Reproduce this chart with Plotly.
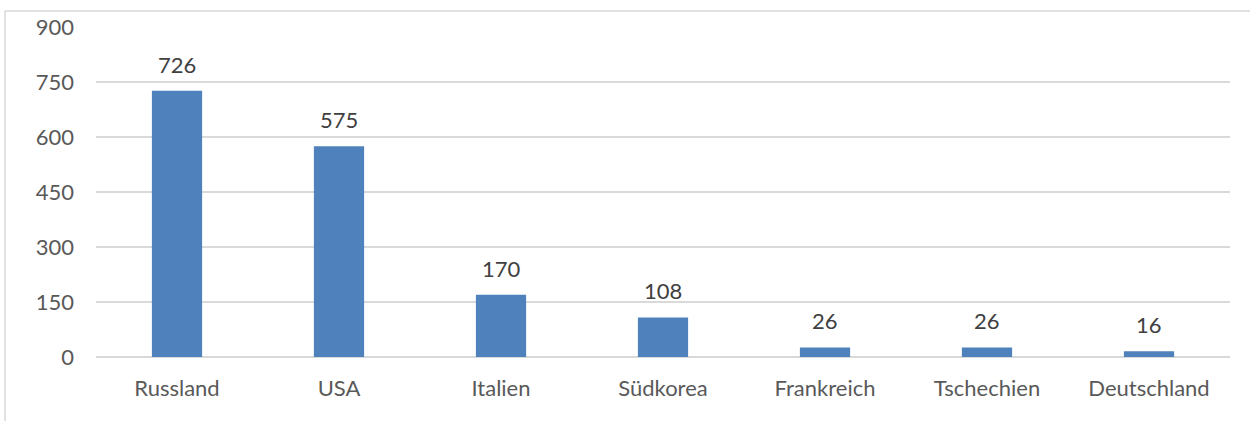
import plotly.graph_objects as go

categories = ["Russland", "USA", "Italien", "Südkorea", "Frankreich", "Tschechien", "Deutschland"]
values = [726, 575, 170, 108, 26, 26, 16]
y_ticks = [0, 150, 300, 450, 600, 750, 900]

FONT = "Lato, Carlito, Calibri, sans-serif"
FS = 22

fig = go.Figure()
fig.add_trace(go.Bar(x=categories, y=values, marker=dict(color="#4F81BD", line=dict(width=0)),
                     hoverinfo="x+y"))

for c, v in zip(categories, values):
    fig.add_annotation(x=c, y=v, text=str(v), showarrow=False, yanchor="bottom", yshift=11,
                       font=dict(family=FONT, size=FS, color="#404040"))

L, T, R, B = 96, 27, 20, 64
W_PLOT = 1250 - L - R
H_PLOT = 421 - T - B
xb = (5 - L) / W_PLOT
yb = 1 + (T - 11) / H_PLOT
fig.add_shape(type="line", xref="paper", yref="paper", x0=xb, x1=xb, y0=-2, y1=yb,
              line=dict(color="#D9D9D9", width=1.5))
fig.add_shape(type="line", xref="paper", yref="paper", x0=xb, x1=2, y0=yb, y1=yb,
              line=dict(color="#D9D9D9", width=1.5))

fig.update_layout(
    width=1250, height=421,
    margin=dict(l=L, r=R, t=T, b=B),
    paper_bgcolor="white", plot_bgcolor="white",
    bargap=0.69, showlegend=False,
    font=dict(family=FONT, size=FS, color="#595959"),
    xaxis=dict(showgrid=False, showline=False, ticks="", tickfont=dict(size=FS, color="#595959"),
               ticklabelstandoff=16),
    yaxis=dict(range=[0, 900], tickvals=y_ticks, showgrid=True, gridcolor="#D9D9D9", gridwidth=1.5,
               zeroline=True, zerolinecolor="#D9D9D9", zerolinewidth=1.5, showline=False,
               ticks="", tickfont=dict(size=FS, color="#595959"), ticklabelstandoff=21),
)

fig.write_html("out.html", config={"displayModeBar": False},
               post_script="document.body.style.margin='0';document.body.style.overflow='hidden';")
